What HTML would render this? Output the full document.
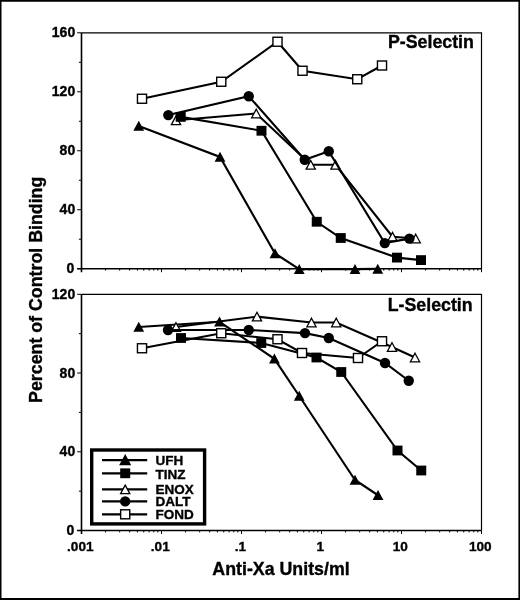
<!DOCTYPE html>
<html><head><meta charset="utf-8"><title>Figure</title>
<style>
html,body{margin:0;padding:0;background:#fff}
body{width:520px;height:600px;overflow:hidden}
svg{display:block}
text{font-family:"Liberation Sans",Arial,Helvetica,sans-serif;font-weight:bold;fill:#000;stroke:#000;stroke-width:0.35px}
.t{font-size:14px}
.x{font-size:13.6px}
.b{font-size:17.8px}
.l{font-size:13.5px}
</style></head><body>
<svg width="520" height="600" viewBox="0 0 520 600">
<rect x="0" y="0" width="520" height="600" fill="#fff"/>
<path d="M0 0H520V600H0Z M1.5 1.7V598.1H518.4V1.7Z" fill="#000" fill-rule="evenodd"/>
<path d="M81.5 32.8H481.5V268.7" fill="none" stroke="#000" stroke-width="1.2"/>
<path d="M81.5 32.8V272.2M77.2 268.7H481.5" fill="none" stroke="#000" stroke-width="1.6"/>
<path d="M77.2 268.70H81.5M78.9 239.21H81.5M77.2 209.72H81.5M78.9 180.24H81.5M77.2 150.75H81.5M78.9 121.26H81.5M77.2 91.78H81.5M78.9 62.29H81.5M77.2 32.80H81.5M105.58 268.7V270.59999999999997M119.67 268.7V270.59999999999997M129.66 268.7V270.59999999999997M137.42 268.7V270.59999999999997M143.75 268.7V270.59999999999997M149.11 268.7V270.59999999999997M153.75 268.7V270.59999999999997M157.84 268.7V270.59999999999997M161.50 268.7V272.2M185.58 268.7V270.59999999999997M199.67 268.7V270.59999999999997M209.66 268.7V270.59999999999997M217.42 268.7V270.59999999999997M223.75 268.7V270.59999999999997M229.11 268.7V270.59999999999997M233.75 268.7V270.59999999999997M237.84 268.7V270.59999999999997M241.50 268.7V272.2M265.58 268.7V270.59999999999997M279.67 268.7V270.59999999999997M289.66 268.7V270.59999999999997M297.42 268.7V270.59999999999997M303.75 268.7V270.59999999999997M309.11 268.7V270.59999999999997M313.75 268.7V270.59999999999997M317.84 268.7V270.59999999999997M321.50 268.7V272.2M345.58 268.7V270.59999999999997M359.67 268.7V270.59999999999997M369.66 268.7V270.59999999999997M377.42 268.7V270.59999999999997M383.75 268.7V270.59999999999997M389.11 268.7V270.59999999999997M393.75 268.7V270.59999999999997M397.84 268.7V270.59999999999997M401.50 268.7V272.2M425.58 268.7V270.59999999999997M439.67 268.7V270.59999999999997M449.66 268.7V270.59999999999997M457.42 268.7V270.59999999999997M463.75 268.7V270.59999999999997M469.11 268.7V270.59999999999997M473.75 268.7V270.59999999999997M477.84 268.7V270.59999999999997M481.5 268.7V272.2" fill="none" stroke="#000" stroke-width="1"/>
<text x="74.2" y="273.30" text-anchor="end" class="t">0</text>
<text x="75.2" y="214.32" text-anchor="end" class="t">40</text>
<text x="75.2" y="155.35" text-anchor="end" class="t">80</text>
<text x="75.2" y="96.38" text-anchor="end" class="t">120</text>
<text x="75.2" y="37.00" text-anchor="end" class="t">160</text>
<polyline fill="none" stroke="#000" stroke-width="2.1" points="138.75,126.00 220.00,156.90 275.00,253.40 299.25,269.10 355.00,269.10 377.75,268.90"/>
<path d="M138.75 120.80L144.15 130.80H133.35Z" fill="#000"/>
<path d="M220.00 151.70L225.40 161.70H214.60Z" fill="#000"/>
<path d="M275.00 248.20L280.40 258.20H269.60Z" fill="#000"/>
<path d="M299.25 263.90L304.65 273.90H293.85Z" fill="#000"/>
<path d="M355.00 263.90L360.40 273.90H349.60Z" fill="#000"/>
<path d="M377.75 263.70L383.15 273.70H372.35Z" fill="#000"/>
<polyline fill="none" stroke="#000" stroke-width="2.1" points="176.00,120.30 256.25,113.50 310.75,164.80 335.50,164.80 392.50,236.70 415.70,238.50"/>
<path d="M176.00 116.00L180.60 124.60H171.40Z" fill="#fff" stroke="#000" stroke-width="1.3" stroke-linejoin="miter"/>
<path d="M256.25 109.20L260.85 117.80H251.65Z" fill="#fff" stroke="#000" stroke-width="1.3" stroke-linejoin="miter"/>
<path d="M310.75 160.50L315.35 169.10H306.15Z" fill="#fff" stroke="#000" stroke-width="1.3" stroke-linejoin="miter"/>
<path d="M335.50 160.50L340.10 169.10H330.90Z" fill="#fff" stroke="#000" stroke-width="1.3" stroke-linejoin="miter"/>
<path d="M392.50 232.40L397.10 241.00H387.90Z" fill="#fff" stroke="#000" stroke-width="1.3" stroke-linejoin="miter"/>
<path d="M415.70 234.20L420.30 242.80H411.10Z" fill="#fff" stroke="#000" stroke-width="1.3" stroke-linejoin="miter"/>
<polyline fill="none" stroke="#000" stroke-width="2.1" points="180.70,116.90 261.50,130.75 316.75,221.75 340.75,238.00 397.00,257.60 421.00,260.10"/>
<rect x="175.70" y="112.00" width="10" height="9.8" fill="#000"/>
<rect x="256.50" y="125.85" width="10" height="9.8" fill="#000"/>
<rect x="311.75" y="216.85" width="10" height="9.8" fill="#000"/>
<rect x="335.75" y="233.10" width="10" height="9.8" fill="#000"/>
<rect x="392.00" y="252.70" width="10" height="9.8" fill="#000"/>
<rect x="416.00" y="255.20" width="10" height="9.8" fill="#000"/>
<polyline fill="none" stroke="#000" stroke-width="2.1" points="168.30,115.10 248.75,96.25 304.75,159.75 328.75,151.25 384.75,243.10 409.40,238.60"/>
<circle cx="168.30" cy="115.10" r="5.20" fill="#000"/>
<circle cx="248.75" cy="96.25" r="5.20" fill="#000"/>
<circle cx="304.75" cy="159.75" r="5.20" fill="#000"/>
<circle cx="328.75" cy="151.25" r="5.20" fill="#000"/>
<circle cx="384.75" cy="243.10" r="5.20" fill="#000"/>
<circle cx="409.40" cy="238.60" r="5.20" fill="#000"/>
<polyline fill="none" stroke="#000" stroke-width="2.1" points="142.00,98.75 221.25,81.75 277.50,41.75 302.50,70.75 357.25,79.25 382.00,65.50"/>
<rect x="137.45" y="94.25" width="9.10" height="9.00" fill="#fff" stroke="#000" stroke-width="1.4"/>
<rect x="216.70" y="77.25" width="9.10" height="9.00" fill="#fff" stroke="#000" stroke-width="1.4"/>
<rect x="272.95" y="37.25" width="9.10" height="9.00" fill="#fff" stroke="#000" stroke-width="1.4"/>
<rect x="297.95" y="66.25" width="9.10" height="9.00" fill="#fff" stroke="#000" stroke-width="1.4"/>
<rect x="352.70" y="74.75" width="9.10" height="9.00" fill="#fff" stroke="#000" stroke-width="1.4"/>
<rect x="377.45" y="61.00" width="9.10" height="9.00" fill="#fff" stroke="#000" stroke-width="1.4"/>
<path d="M81.5 294.3H481.5V530.5" fill="none" stroke="#000" stroke-width="1.2"/>
<path d="M81.5 294.3V534.0M77.2 530.5H481.5" fill="none" stroke="#000" stroke-width="1.6"/>
<path d="M77.2 530.50H81.5M78.9 491.13H81.5M77.2 451.77H81.5M78.9 412.40H81.5M77.2 373.03H81.5M78.9 333.67H81.5M77.2 294.30H81.5M105.58 530.5V532.4M119.67 530.5V532.4M129.66 530.5V532.4M137.42 530.5V532.4M143.75 530.5V532.4M149.11 530.5V532.4M153.75 530.5V532.4M157.84 530.5V532.4M161.50 530.5V534.0M185.58 530.5V532.4M199.67 530.5V532.4M209.66 530.5V532.4M217.42 530.5V532.4M223.75 530.5V532.4M229.11 530.5V532.4M233.75 530.5V532.4M237.84 530.5V532.4M241.50 530.5V534.0M265.58 530.5V532.4M279.67 530.5V532.4M289.66 530.5V532.4M297.42 530.5V532.4M303.75 530.5V532.4M309.11 530.5V532.4M313.75 530.5V532.4M317.84 530.5V532.4M321.50 530.5V534.0M345.58 530.5V532.4M359.67 530.5V532.4M369.66 530.5V532.4M377.42 530.5V532.4M383.75 530.5V532.4M389.11 530.5V532.4M393.75 530.5V532.4M397.84 530.5V532.4M401.50 530.5V534.0M425.58 530.5V532.4M439.67 530.5V532.4M449.66 530.5V532.4M457.42 530.5V532.4M463.75 530.5V532.4M469.11 530.5V532.4M473.75 530.5V532.4M477.84 530.5V532.4M481.5 530.5V534.0" fill="none" stroke="#000" stroke-width="1"/>
<text x="74.2" y="535.10" text-anchor="end" class="t">0</text>
<text x="75.2" y="456.37" text-anchor="end" class="t">40</text>
<text x="75.2" y="377.63" text-anchor="end" class="t">80</text>
<text x="75.2" y="298.50" text-anchor="end" class="t">120</text>
<polyline fill="none" stroke="#000" stroke-width="2.1" points="138.75,327.00 219.50,321.80 274.40,358.80 299.25,396.00 355.00,480.00 378.00,495.25"/>
<path d="M138.75 321.80L144.15 331.80H133.35Z" fill="#000"/>
<path d="M219.50 316.60L224.90 326.60H214.10Z" fill="#000"/>
<path d="M274.40 353.60L279.80 363.60H269.00Z" fill="#000"/>
<path d="M299.25 390.80L304.65 400.80H293.85Z" fill="#000"/>
<path d="M355.00 474.80L360.40 484.80H349.60Z" fill="#000"/>
<path d="M378.00 490.05L383.40 500.05H372.60Z" fill="#000"/>
<polyline fill="none" stroke="#000" stroke-width="2.1" points="176.00,327.00 257.00,316.60 311.50,322.50 336.25,322.50 392.00,347.00 415.00,357.50"/>
<path d="M176.00 322.70L180.60 331.30H171.40Z" fill="#fff" stroke="#000" stroke-width="1.3" stroke-linejoin="miter"/>
<path d="M257.00 312.30L261.60 320.90H252.40Z" fill="#fff" stroke="#000" stroke-width="1.3" stroke-linejoin="miter"/>
<path d="M311.50 318.20L316.10 326.80H306.90Z" fill="#fff" stroke="#000" stroke-width="1.3" stroke-linejoin="miter"/>
<path d="M336.25 318.20L340.85 326.80H331.65Z" fill="#fff" stroke="#000" stroke-width="1.3" stroke-linejoin="miter"/>
<path d="M392.00 342.70L396.60 351.30H387.40Z" fill="#fff" stroke="#000" stroke-width="1.3" stroke-linejoin="miter"/>
<path d="M415.00 353.20L419.60 361.80H410.40Z" fill="#fff" stroke="#000" stroke-width="1.3" stroke-linejoin="miter"/>
<polyline fill="none" stroke="#000" stroke-width="2.1" points="181.00,338.00 261.25,343.00 316.50,357.50 341.25,372.00 397.50,450.50 421.25,470.50"/>
<rect x="176.00" y="333.10" width="10" height="9.8" fill="#000"/>
<rect x="256.25" y="338.10" width="10" height="9.8" fill="#000"/>
<rect x="311.50" y="352.60" width="10" height="9.8" fill="#000"/>
<rect x="336.25" y="367.10" width="10" height="9.8" fill="#000"/>
<rect x="392.50" y="445.60" width="10" height="9.8" fill="#000"/>
<rect x="416.25" y="465.60" width="10" height="9.8" fill="#000"/>
<polyline fill="none" stroke="#000" stroke-width="2.1" points="168.00,330.00 248.75,330.00 305.00,333.10 328.75,338.00 385.00,363.00 408.75,380.75"/>
<circle cx="168.00" cy="330.00" r="5.20" fill="#000"/>
<circle cx="248.75" cy="330.00" r="5.20" fill="#000"/>
<circle cx="305.00" cy="333.10" r="5.20" fill="#000"/>
<circle cx="328.75" cy="338.00" r="5.20" fill="#000"/>
<circle cx="385.00" cy="363.00" r="5.20" fill="#000"/>
<circle cx="408.75" cy="380.75" r="5.20" fill="#000"/>
<polyline fill="none" stroke="#000" stroke-width="2.1" points="142.00,348.25 221.25,333.25 277.50,339.25 302.00,353.00 358.00,358.00 382.00,341.25"/>
<rect x="137.45" y="343.75" width="9.10" height="9.00" fill="#fff" stroke="#000" stroke-width="1.4"/>
<rect x="216.70" y="328.75" width="9.10" height="9.00" fill="#fff" stroke="#000" stroke-width="1.4"/>
<rect x="272.95" y="334.75" width="9.10" height="9.00" fill="#fff" stroke="#000" stroke-width="1.4"/>
<rect x="297.45" y="348.50" width="9.10" height="9.00" fill="#fff" stroke="#000" stroke-width="1.4"/>
<rect x="353.45" y="353.50" width="9.10" height="9.00" fill="#fff" stroke="#000" stroke-width="1.4"/>
<rect x="377.45" y="336.75" width="9.10" height="9.00" fill="#fff" stroke="#000" stroke-width="1.4"/>
<text x="80.3" y="550.6" text-anchor="middle" class="t x">.001</text>
<text x="160.3" y="550.6" text-anchor="middle" class="t x">.01</text>
<text x="240.3" y="550.6" text-anchor="middle" class="t x">.1</text>
<text x="320.3" y="550.6" text-anchor="middle" class="t x">1</text>
<text x="400.3" y="550.6" text-anchor="middle" class="t x">10</text>
<text x="480.3" y="550.6" text-anchor="middle" class="t x">100</text>
<text x="473.9" y="47.8" text-anchor="end" class="b">P-Selectin</text>
<text x="472.7" y="310.8" text-anchor="end" class="b">L-Selectin</text>
<text x="281" y="574.7" text-anchor="middle" class="b">Anti-Xa Units/ml</text>
<text transform="translate(41.5 289.8) rotate(-90)" text-anchor="middle" class="b">Percent of Control Binding</text>
<rect x="91.7" y="450" width="112.9" height="73.9" fill="#fff" stroke="#000" stroke-width="3.4"/>
<path d="M102 460.2H147.2" stroke="#000" stroke-width="2.3"/>
<path d="M125.20 454.08L131.25 465.28H119.15Z" fill="#000"/>
<text x="155.6" y="465" class="l">UFH</text>
<path d="M102 473.3H147.2" stroke="#000" stroke-width="2.3"/>
<rect x="120.20" y="468.40" width="10" height="9.8" fill="#000"/>
<text x="155.6" y="478.6" class="l">TINZ</text>
<path d="M102 489.4H147.2" stroke="#000" stroke-width="2.3"/>
<path d="M125.20 485.10L129.80 493.70H120.60Z" fill="#fff" stroke="#000" stroke-width="1.3" stroke-linejoin="miter"/>
<text x="155.6" y="494.3" class="l">ENOX</text>
<path d="M102 501.4H147.2" stroke="#000" stroke-width="2.3"/>
<circle cx="125.20" cy="501.40" r="5.20" fill="#000"/>
<text x="155.6" y="506.3" class="l">DALT</text>
<path d="M102 514.3H147.2" stroke="#000" stroke-width="2.3"/>
<rect x="120.65" y="509.80" width="9.10" height="9.00" fill="#fff" stroke="#000" stroke-width="1.4"/>
<text x="155.6" y="519.3" class="l">FOND</text>
</svg>
</body></html>
